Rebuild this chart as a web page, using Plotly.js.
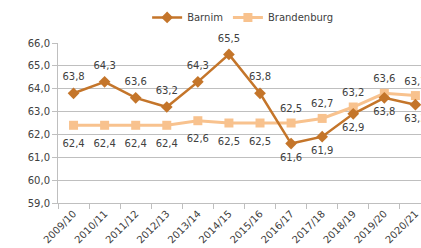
<!DOCTYPE html>
<html>
<head>
<meta charset="utf-8">
<script src="https://cdn.plot.ly/plotly-3.0.1.min.js"></script>
<style>html,body{margin:0;padding:0;background:#fff;}#chart{width:421px;height:248px;}</style>
</head>
<body>
<div id="chart"></div>
<script>
const categories = ["2009/10","2010/11","2011/12","2012/13","2013/14","2014/15","2015/16","2016/17","2017/18","2018/19","2019/20","2020/21"];
const barnim = [63.8, 64.3, 63.6, 63.2, 64.3, 65.5, 63.8, 61.6, 61.9, 62.9, 63.6, 63.3];
const brandenburg = [62.4, 62.4, 62.4, 62.4, 62.6, 62.5, 62.5, 62.5, 62.7, 63.2, 63.8, 63.7];
const barnimLabels = ["63,8","64,3","63,6","63,2","64,3","65,5","63,8","61,6","61,9","62,9","63,8","63,3"];
const brandenburgLabels = ["62,4","62,4","62,4","62,4","62,6","62,5","62,5","62,5","62,7","63,2","63,6","63,7"];

const barnimPos = categories.map((c,i)=> i < 7 ? "top center" : "bottom center");
const brandPos = categories.map((c,i)=> i < 7 ? "bottom center" : "top center");
const barnimGap = categories.map((c,i)=> i < 7 ? 15 : 14);
const brandGap = categories.map((c,i)=> i < 7 ? 21 : 12);

const FONT = "DejaVu Sans, sans-serif";
const labelFont = {family: FONT, size: 10, color: "#404040"};
const cBarnim = "#C4752A";
const cBrand = "#F8C28E";

const traces = [
  {
    x: categories, y: brandenburg, name: "Brandenburg", type: "scatter", mode: "lines+markers",
    line: {color: cBrand, width: 3},
    marker: {symbol: "square", size: 9, color: cBrand}
  },
  {
    x: categories, y: barnim, name: "Barnim", type: "scatter", mode: "lines+markers",
    line: {color: cBarnim, width: 2.5},
    marker: {symbol: "diamond", size: 9, color: cBarnim}
  },
  {
    x: categories, y: brandenburg, type: "scatter", mode: "markers+text", showlegend: false,
    marker: {size: brandGap, opacity: 0}, hoverinfo: "skip",
    text: brandenburgLabels, textposition: brandPos, textfont: labelFont, cliponaxis: false
  },
  {
    x: categories, y: barnim, type: "scatter", mode: "markers+text", showlegend: false,
    marker: {size: barnimGap, opacity: 0}, hoverinfo: "skip",
    text: barnimLabels, textposition: barnimPos, textfont: labelFont, cliponaxis: false
  }
];

const layout = {
  width: 421, height: 248,
  margin: {l: 58, r: 0, t: 43, b: 45, pad: 0},
  paper_bgcolor: "#fff", plot_bgcolor: "#fff",
  separators: ", ",
  font: {family: FONT, size: 10, color: "#404040"},
  showlegend: true,
  legend: {orientation: "h", x: 0.51, xanchor: "center", y: 1.16, yanchor: "middle",
           font: {family: FONT, size: 10, color: "#404040"},
           traceorder: "reversed", itemwidth: 30},
  xaxis: {
    type: "category", range: [-0.5, 11.18], tickangle: -45,
    tickson: "boundaries", ticks: "outside", ticklen: 5, tickcolor: "#BFBFBF",
    showgrid: false, showline: true, linecolor: "#BFBFBF", linewidth: 1,
    tickfont: {family: FONT, size: 10, color: "#404040"},
    fixedrange: true
  },
  yaxis: {
    range: [59, 66], dtick: 1, tickformat: ".1f",
    ticks: "outside", ticklen: 5, tickcolor: "#BFBFBF",
    showgrid: true, gridcolor: "#BFBFBF", gridwidth: 1,
    showline: true, linecolor: "#BFBFBF", linewidth: 1, zeroline: false,
    tickfont: {family: FONT, size: 10, color: "#404040"},
    fixedrange: true
  }
};

Plotly.newPlot("chart", traces, layout, {displayModeBar: false, staticPlot: true});
</script>
</body>
</html>
